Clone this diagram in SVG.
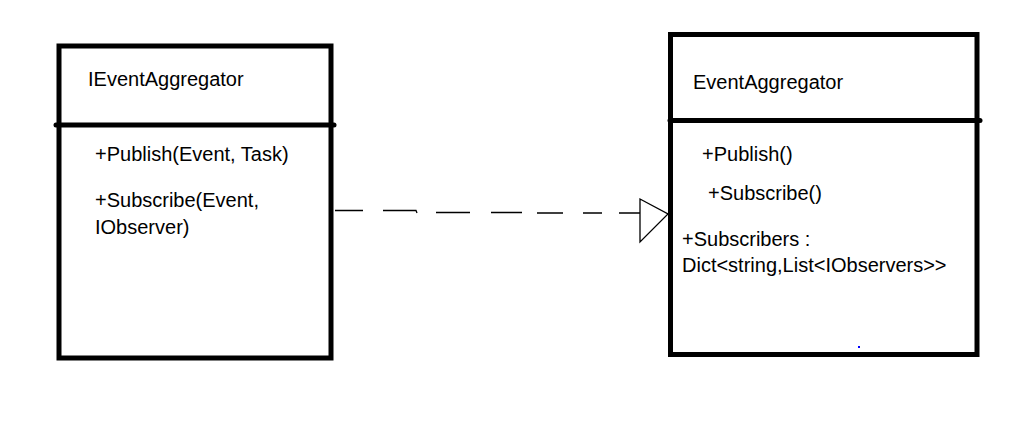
<svg xmlns="http://www.w3.org/2000/svg" width="1030" height="421" viewBox="0 0 1030 421">
<style>
.box{fill:#ffffff;stroke:#000000;stroke-width:5}
.div{stroke:#000000;stroke-width:5;stroke-linecap:round}
.t{font-family:"Liberation Sans",Arial,sans-serif;font-size:20px;fill:#000000}
.dash{fill:none;stroke:#000000;stroke-width:1.3}
</style>
<rect x="0" y="0" width="1030" height="421" fill="#ffffff"/>
<g id="IEventAggregator">
<rect class="box" x="59" y="46" width="272" height="312"/>
<line class="div" x1="56" y1="125" x2="334" y2="125"/>
<text class="t" x="88" y="86">IEventAggregator</text>
<text class="t" x="95" y="161">+Publish(Event, Task)</text>
<text class="t" x="95" y="207">+Subscribe(Event,</text>
<text class="t" x="95" y="234">IObserver)</text>
</g>
<g id="EventAggregator">
<rect class="box" x="670.5" y="34.5" width="306.5" height="320"/>
<line class="div" x1="670" y1="120.5" x2="980" y2="120.5"/>
<text class="t" x="693" y="89">EventAggregator</text>
<text class="t" x="702" y="161">+Publish()</text>
<text class="t" x="708" y="200">+Subscribe()</text>
<text class="t" x="682" y="246">+Subscribers :</text>
<text class="t" x="682" y="272">Dict&lt;string,List&lt;IObservers&gt;&gt;</text>
<rect x="858" y="346" width="2" height="2" fill="#0000ff"/>
</g>
<g id="connectors">
<path class="dash" d="M335 210.5H363 M383 210.5H416L417 213 M436 212.5H470 M491 212.5H522 M537 213H563 M583 213H602 M619 213H640"/>
<path class="dash" d="M640 199L668 214L640 242Z"/>
</g>
</svg>
